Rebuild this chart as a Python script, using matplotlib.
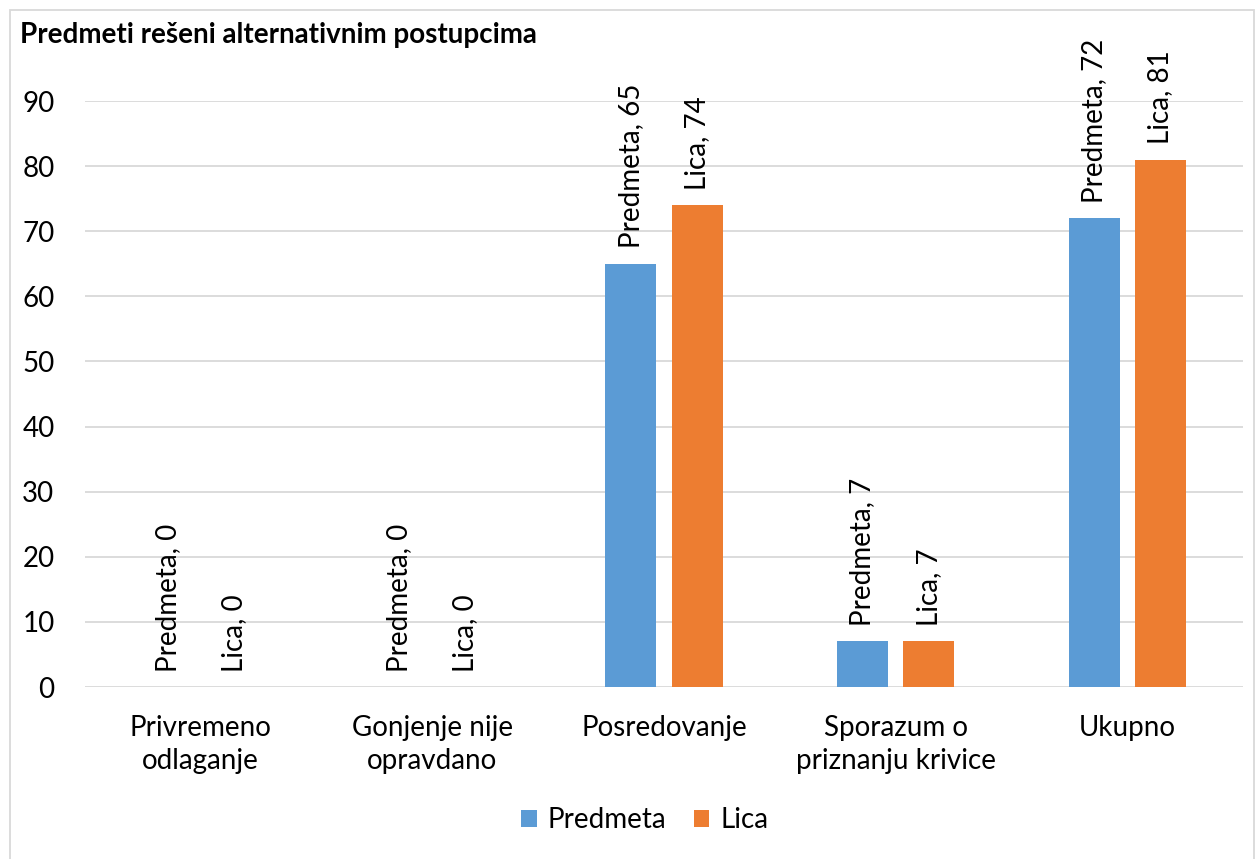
import matplotlib.pyplot as plt
import numpy as np
from matplotlib.patches import Rectangle

categories = ["Privremeno\nodlaganje", "Gonjenje nije\nopravdano", "Posredovanje",
              "Sporazum o\npriznanju krivice", "Ukupno"]
predmeta = [0, 0, 65, 7, 72]
lica = [0, 0, 74, 7, 81]
series_names = ["Predmeta", "Lica"]
colors = ["#5B9BD5", "#ED7D31"]

plt.rcParams['font.family'] = ['Lato', 'DejaVu Sans']

fig = plt.figure(figsize=(12.59, 8.59), dpi=100)
ax = fig.add_axes([85/1259, 1 - 687/859, (1243-85)/1259, (687-101)/859])

x = np.arange(len(categories))
width = 0.22
offset = 0.143

for vals, name, col, off in zip([predmeta, lica], series_names, colors, [-offset, offset]):
    ax.bar(x + off, vals, width, color=col, label=name, zorder=3)
    for xi, v in zip(x + off, vals):
        ax.annotate(f"{name}, {v}", (xi, v), xytext=(0, 11), textcoords="offset points",
                    rotation=90, ha='center', va='bottom', fontsize=20, color='black')

ax.set_xlim(-0.5, len(categories) - 0.5)
ax.set_ylim(0, 90)
ax.set_yticks(range(0, 91, 10))
ax.set_xticks(x)
ax.set_xticklabels(categories, fontsize=20, linespacing=1.35)
ax.tick_params(axis='y', labelsize=20, length=0, pad=22)
ax.tick_params(axis='x', length=0, pad=20)
ax.grid(axis='y', color='#D9D9D9', linewidth=1.3, zorder=0)
for s in ax.spines.values():
    s.set_visible(False)

fig.text(20/1259, 1 - 35/859, "Predmeti rešeni alternativnim postupcima",
         fontsize=20, fontweight='bold', va='center', ha='left')

fig.legend(loc='center', bbox_to_anchor=(645/1259, 1 - 820/859), ncol=2, frameon=False,
           fontsize=20, handlelength=0.55, handleheight=0.55, handletextpad=0.4,
           columnspacing=1.0)

fig.patches.append(Rectangle((10/1259, -0.01), 1244/1259, 1 - 10/859 + 0.01,
                             transform=fig.transFigure, fill=False,
                             edgecolor='#D9D9D9', linewidth=1.3))

fig.savefig("out.png", dpi=100)
